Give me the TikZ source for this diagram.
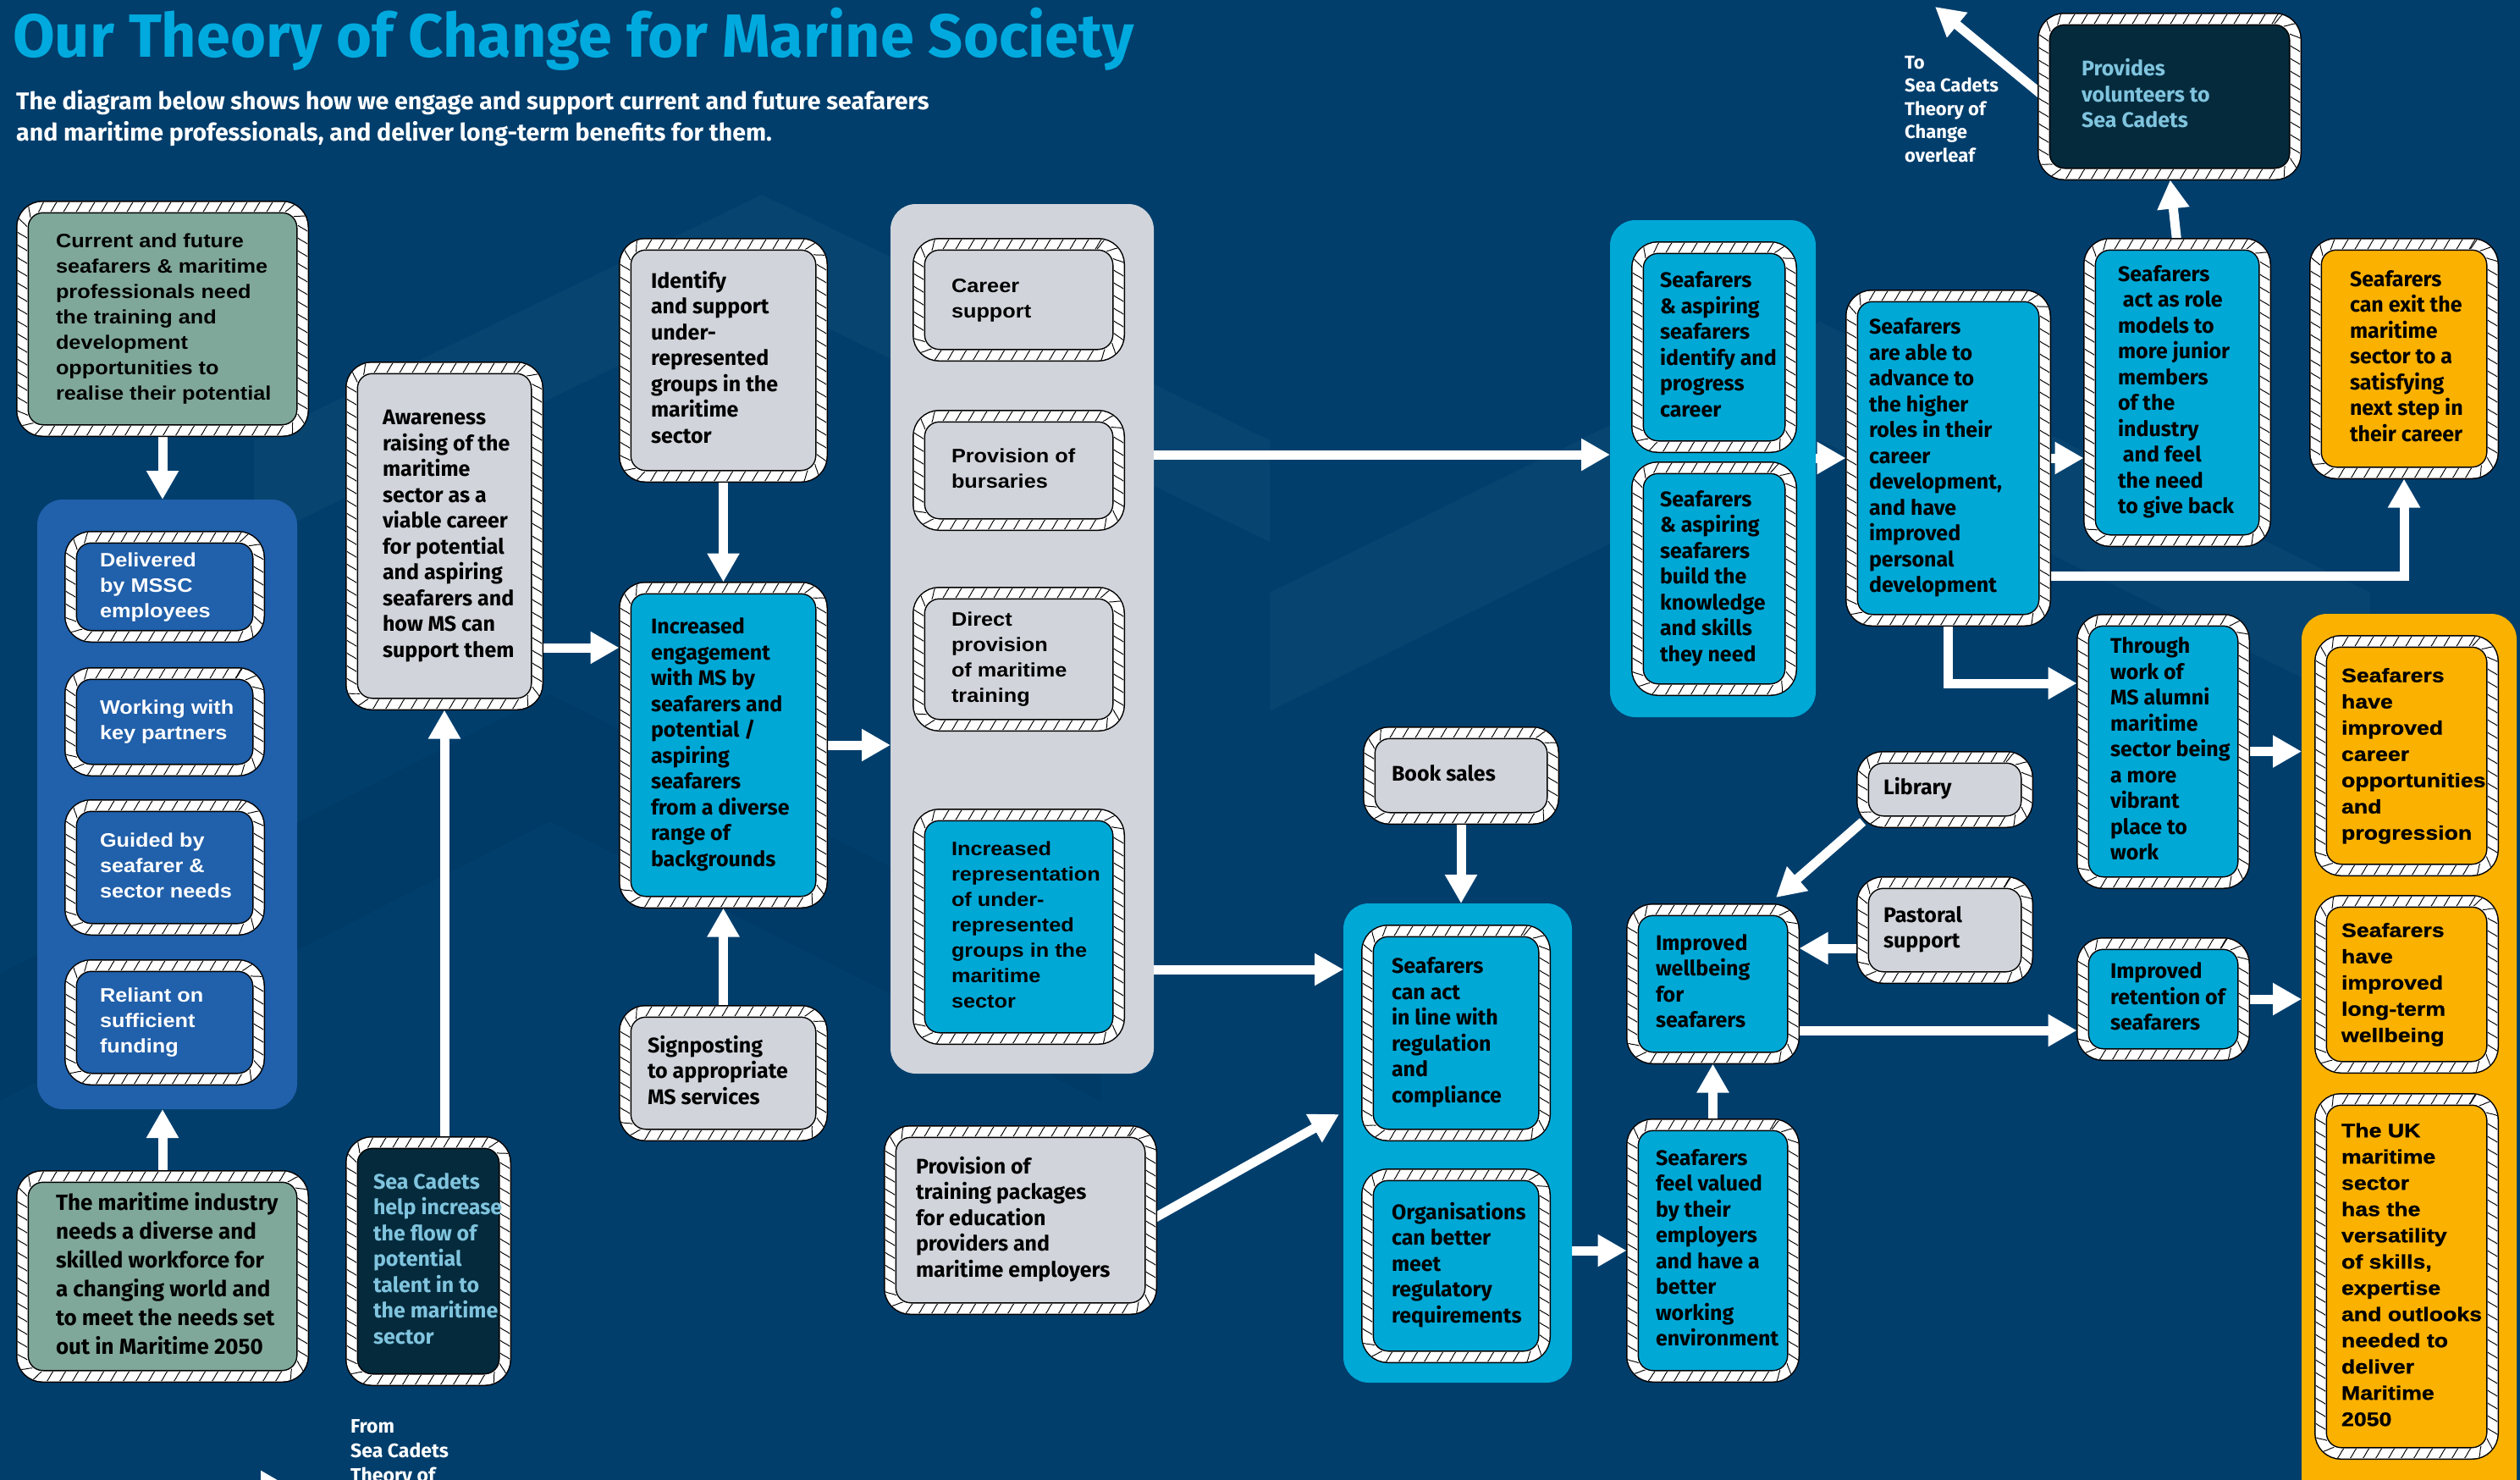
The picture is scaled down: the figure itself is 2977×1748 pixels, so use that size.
\documentclass[tikz,border=0pt]{standalone}
\usepackage{fontspec}
\setmainfont{Fira Sans}
\newfontfamily\condf{Fira Sans}
\newfontfamily\widef[FakeStretch=1.10]{Liberation Sans}
\newfontfamily\xwidef[FakeStretch=1.16,FakeBold=1]{Liberation Sans}
\usetikzlibrary{arrows.meta,decorations.markings}
\definecolor{bgblue}{RGB}{1,62,108}
\definecolor{titlecyan}{RGB}{0,170,222}
\definecolor{cyanc}{RGB}{0,168,214}
\definecolor{lgrey}{RGB}{209,213,219}
\definecolor{sage}{RGB}{128,168,154}
\definecolor{midblue}{RGB}{33,96,170}
\definecolor{darknavy}{RGB}{4,42,60}
\definecolor{paleblue}{RGB}{128,196,222}
\definecolor{amber}{RGB}{251,177,0}
\pgfdeclarelayer{back}
\pgfdeclarelayer{links}
\pgfsetlayers{back,links,main}
\tikzset{
  rope/.style={rounded corners=24pt, inner sep=0pt, outer sep=0pt,
    postaction={draw=black, line width=15pt},
    postaction={draw=white, line width=12pt},
    postaction={decorate, decoration={markings,
       mark=between positions 0 and 1 step 15pt with {\draw[black, line width=0.95pt] (-3.5pt,-5.6pt) .. controls (-0.5pt,-2pt) and (0.5pt,2pt) .. (3.5pt,5.6pt);}}}},
  container/.style={rounded corners=30pt, inner sep=0pt, outer sep=0pt},
  condtxt/.style={font=\condf\bfseries\fontsize{25}{30.5}\selectfont},
  widetxt/.style={font=\widef\bfseries\fontsize{23}{30}\selectfont},
  xwidetxt/.style={font=\xwidef\bfseries\fontsize{23}{31}\selectfont},
  greyb/.style={rope, fill=lgrey, text=black, condtxt},
  greyw/.style={rope, fill=lgrey, text=black, widetxt},
  cyanb/.style={rope, fill=cyanc, text=black, condtxt},
  cyanw/.style={rope, fill=cyanc, text=black, widetxt},
  sageb/.style={rope, fill=sage, text=black},
  blueb/.style={rope, fill=midblue, text=white, widetxt},
  navyb/.style={rope, fill=darknavy, text=paleblue, condtxt},
  amberb/.style={rope, fill=amber, text=black, xwidetxt},
  amberc/.style={rope, fill=amber, text=black, condtxt},
  arr/.style={draw=white, line width=11pt, -{Triangle[width=36pt,length=34pt]}, shorten >=7pt},
  arrc/.style={arr, shorten >=0pt},
  note/.style={inner sep=0pt, text=white, anchor=north west, font=\condf\bfseries\fontsize{22}{27.5}\selectfont},
}
\newcommand\mybox[8][45]{%
  \node[#7, minimum width={#5-#3-15}, minimum height={#6-#4-15}] (#2) at ({(#3+#5)/2},{(#4+#6)/2})
   {\makebox[\dimexpr #5pt-#3pt-#1pt*2\relax][l]{\begin{tabular}{@{}l@{}}#8\end{tabular}}};}
\newcommand\mycont[6]{\node[container, fill=#6, minimum width={#4-#2}, minimum height={#5-#3}] (#1) at ({(#2+#4)/2},{(#3+#5)/2}) {};}
\begin{document}
\begin{tikzpicture}[x=1pt,y=-1pt]
\begin{pgfonlayer}{back}
\fill[bgblue] (0,0) rectangle (2977,1748);
\fill[black, opacity=0.05] (0,1150) -- (650,820) -- (1300,1150) -- (1300,1300) -- (650,970) -- (0,1300) -- cycle;
\fill[white, opacity=0.03] (1500,700) -- (2150,380) -- (2800,700) -- (2800,840) -- (2150,520) -- (1500,840) -- cycle;
\fill[white, opacity=0.03] (300,520) -- (900,230) -- (1500,520) -- (1500,640) -- (900,350) -- (300,640) -- cycle;
\end{pgfonlayer}
\useasboundingbox (0,0) rectangle (2977,1748);

% title
\node[anchor=base west, inner sep=0pt, text=titlecyan, font=\condf\bfseries\fontsize{72}{80}\selectfont] (title) at (15,67) {Our Theory of Change for Marine Society};
\node[anchor=north west, inner sep=0pt, text=white, font=\condf\bfseries\fontsize{28.5}{37}\selectfont] (sub) at (19,103) {\begin{tabular}{@{}l@{}}The diagram below shows how we engage and support current and future seafarers\\and maritime professionals, and deliver long-term benefits for them.\end{tabular}};

% left column
\mybox[47]{green1}{19}{237}{365}{516}{sageb, widetxt}{Current and future\\seafarers \& maritime\\professionals need\\the training and\\development\\opportunities to\\realise their potential}
\mycont{blueC}{44}{590}{351}{1310}{midblue}
\mybox[42]{del}{76}{627}{313}{759}{blueb}{Delivered\\by MSSC\\employees}
\mybox[42]{work}{76}{788}{313}{917}{blueb}{Working with\\key partners}
\mybox[42]{guide}{76}{944}{313}{1105}{blueb}{Guided by\\seafarer \&\\sector needs}
\mybox[42]{rely}{76}{1133}{313}{1282}{blueb}{Reliant on\\sufficient\\funding}
\mybox[47]{green2}{19}{1382}{365}{1633}{sageb, font=\condf\bfseries\fontsize{26}{34}\selectfont}{The maritime industry\\needs a diverse and\\skilled workforce for\\a changing world and\\to meet the needs set\\out in Maritime 2050}

% column 2
\mybox[44]{aware}{408}{427}{642}{839}{greyb}{Awareness\\raising of the\\maritime\\sector as a\\viable career\\for potential\\and aspiring\\seafarers and\\how MS can\\support them}
\mybox[33]{cadets}{408}{1342}{604}{1637}{navyb}{Sea Cadets\\help increase\\the flow of\\potential\\talent in to\\the maritime\\sector}

% column 3
\mybox[38]{ident}{731}{281}{978}{570}{greyb}{Identify\\and support\\under-\\represented\\groups in the\\maritime\\sector}
\mybox[38]{engage}{731}{687}{978}{1073}{cyanb}{Increased\\engagement\\with MS by\\seafarers and\\potential /\\aspiring\\seafarers\\from a diverse\\range of\\backgrounds}
\mybox[34]{sign}{731}{1187}{978}{1348}{greyb}{Signposting\\to appropriate\\MS services}

% column 4
\mycont{greyC}{1052}{241}{1363}{1268}{lgrey}
\mybox[46]{career}{1078}{281}{1329}{427}{greyw}{Career\\support}
\mybox[46]{burs}{1078}{484}{1329}{627}{greyw}{Provision of\\bursaries}
\mybox[46]{direct}{1078}{693}{1329}{864}{greyw}{Direct\\provision\\of maritime\\training}
\mybox[46]{incrrep}{1078}{955}{1329}{1234}{cyanw}{Increased\\representation\\of under-\\represented\\groups in the\\maritime\\sector}
\mybox[38]{train}{1044}{1329}{1367}{1553}{greyb}{Provision of\\training packages\\for education\\providers and\\maritime employers}

% column 5
\mybox[34]{book}{1610}{858}{1842}{974}{greyb}{Book sales}
\mycont{grpB}{1587}{1067}{1857}{1633}{cyanc}
\mybox[36]{act}{1608}{1092}{1832}{1348}{cyanb}{Seafarers\\can act\\in line with\\regulation\\and\\compliance}
\mybox[36]{org}{1608}{1380}{1832}{1610}{cyanb}{Organisations\\can better\\meet\\regulatory\\requirements}
\mycont{grpA}{1902}{260}{2145}{847}{cyanc}
\mybox[34]{prog}{1927}{285}{2123}{535}{cyanb}{Seafarers\\\& aspiring\\seafarers\\identify and\\progress\\career}
\mybox[34]{build}{1927}{545}{2123}{822}{cyanb}{Seafarers\\\& aspiring\\seafarers\\build the\\knowledge\\and skills\\they need}

% column 6
\mybox[35]{well}{1921}{1067}{2126}{1257}{cyanb}{Improved\\wellbeing\\for\\seafarers}
\mybox[35]{valued}{1921}{1321}{2126}{1633}{cyanb}{Seafarers\\feel valued\\by their\\employers\\and have a\\better\\working\\environment}
\mybox[28]{adv}{2180}{342}{2423}{740}{cyanb}{Seafarers\\are able to\\advance to\\the higher\\roles in their\\career\\development,\\and have\\improved\\personal\\development}
\mybox[32]{lib}{2193}{887}{2402}{978}{greyb}{Library}
\mybox[32]{past}{2193}{1035}{2402}{1162}{greyb}{Pastoral\\support}

% column 7
\mybox[41]{role}{2461}{281}{2683}{646}{cyanb}{Seafarers\\\ act as role\\models to\\more junior\\members\\of the\\industry\\\ and feel\\the need\\to give back}
\mybox[40]{thru}{2453}{725}{2658}{1050}{cyanb}{Through\\work of\\MS alumni\\maritime\\sector being\\a more\\vibrant\\place to\\work}
\mybox[40]{retain}{2453}{1107}{2658}{1253}{cyanb}{Improved\\retention of\\seafarers}
\mybox[52]{vol}{2407}{15}{2719}{213}{navyb}{Provides\\volunteers to\\Sea Cadets}
\node[note] (tonote) at (2250,62) {\begin{tabular}{@{}l@{}}To\\Sea Cadets\\Theory of\\Change\\overleaf\end{tabular}};

% right column
\mybox[48]{exit}{2728}{281}{2952}{566}{amberc}{Seafarers\\can exit the\\maritime\\sector to a\\satisfying\\next step in\\their career}
\mycont{orangeC}{2719}{725}{2973}{1780}{amber}
\mybox[32]{oa}{2734}{750}{2952}{1035}{amberb}{Seafarers\\have\\improved\\career\\opportunities\\and\\progression}
\mybox[32]{ob}{2734}{1057}{2952}{1268}{amberb}{Seafarers\\have\\improved\\long-term\\wellbeing}
\mybox[32]{oc}{2734}{1291}{2952}{1724}{amberb}{The UK\\maritime\\sector\\has the\\versatility\\of skills,\\expertise\\and outlooks\\needed to\\deliver\\Maritime\\2050}

\node[note, font=\condf\bfseries\fontsize{23}{29}\selectfont] (fromnote) at (414,1672) {\begin{tabular}{@{}l@{}}From\\Sea Cadets\\Theory of\end{tabular}};

% connectors
\begin{pgfonlayer}{links}
\draw[arrc] (green1.south) -- (green1.south |- blueC.north);
\draw[arrc] (green2.north) -- (green2.north |- blueC.south);
\draw[arr] (cadets.north -| aware.south) -- (aware.south);
\draw[arr] (ident.south) -- (engage.north);
\draw[arr] (sign.north) -- (engage.south);
\coordinate (yAW) at (0,765);
\draw[arr] (aware.east |- yAW) -- (engage.west |- yAW);
\draw[arrc] (engage.east) -- (engage.east -| greyC.west);
\coordinate (yTop) at (0,537);
\draw[arrc] (greyC.east |- yTop) -- (grpA.west |- yTop);
\coordinate (yRep) at (0,1145);
\draw[arrc] (greyC.east |- yRep) -- (grpB.west |- yRep);
\coordinate (tTrain) at (1582,1316);
\draw[arrc] (train.east) -- (tTrain);
\draw[arrc] (book.south) -- (book.south |- grpB.north);
\draw[arr] (grpB.east |- valued.west) -- (valued.west);
\draw[arr] (valued.north) -- (well.south);
\coordinate (tLib) at (2098,1060);
\draw[arrc] (lib.south west) -- (tLib);
\coordinate (yPast) at (0,1120);
\draw[arr] (past.west |- yPast) -- (well.east |- yPast);
\coordinate (yRet) at (0,1217);
\draw[arr] (well.east |- yRet) -- (retain.west |- yRet);
\draw[arrc] (thru.east) -- (thru.east -| orangeC.west);
\draw[arrc] (retain.east) -- (retain.east -| orangeC.west);
\draw[arr] (grpA.east |- adv.west) -- (adv.west);
\draw[arr] (adv.east) -- (adv.east -| role.west);
\draw[arr] (role.north) -- (vol.south);
\coordinate (toSC) at (2286,8);
\draw[arrc] (vol.west) -- (toSC);
\coordinate (yExit) at (0,680);
\draw[arr] (adv.east |- yExit) -| (exit.south);
\coordinate (yThru) at (0,807);
\draw[arr] (adv.south) |- (thru.west |- yThru);
\coordinate (fromA) at (150,1756);
\coordinate (fromB) at (342,1756);
\draw[arrc] (fromA) -- (fromB);
\end{pgfonlayer}
\end{tikzpicture}
\end{document}
